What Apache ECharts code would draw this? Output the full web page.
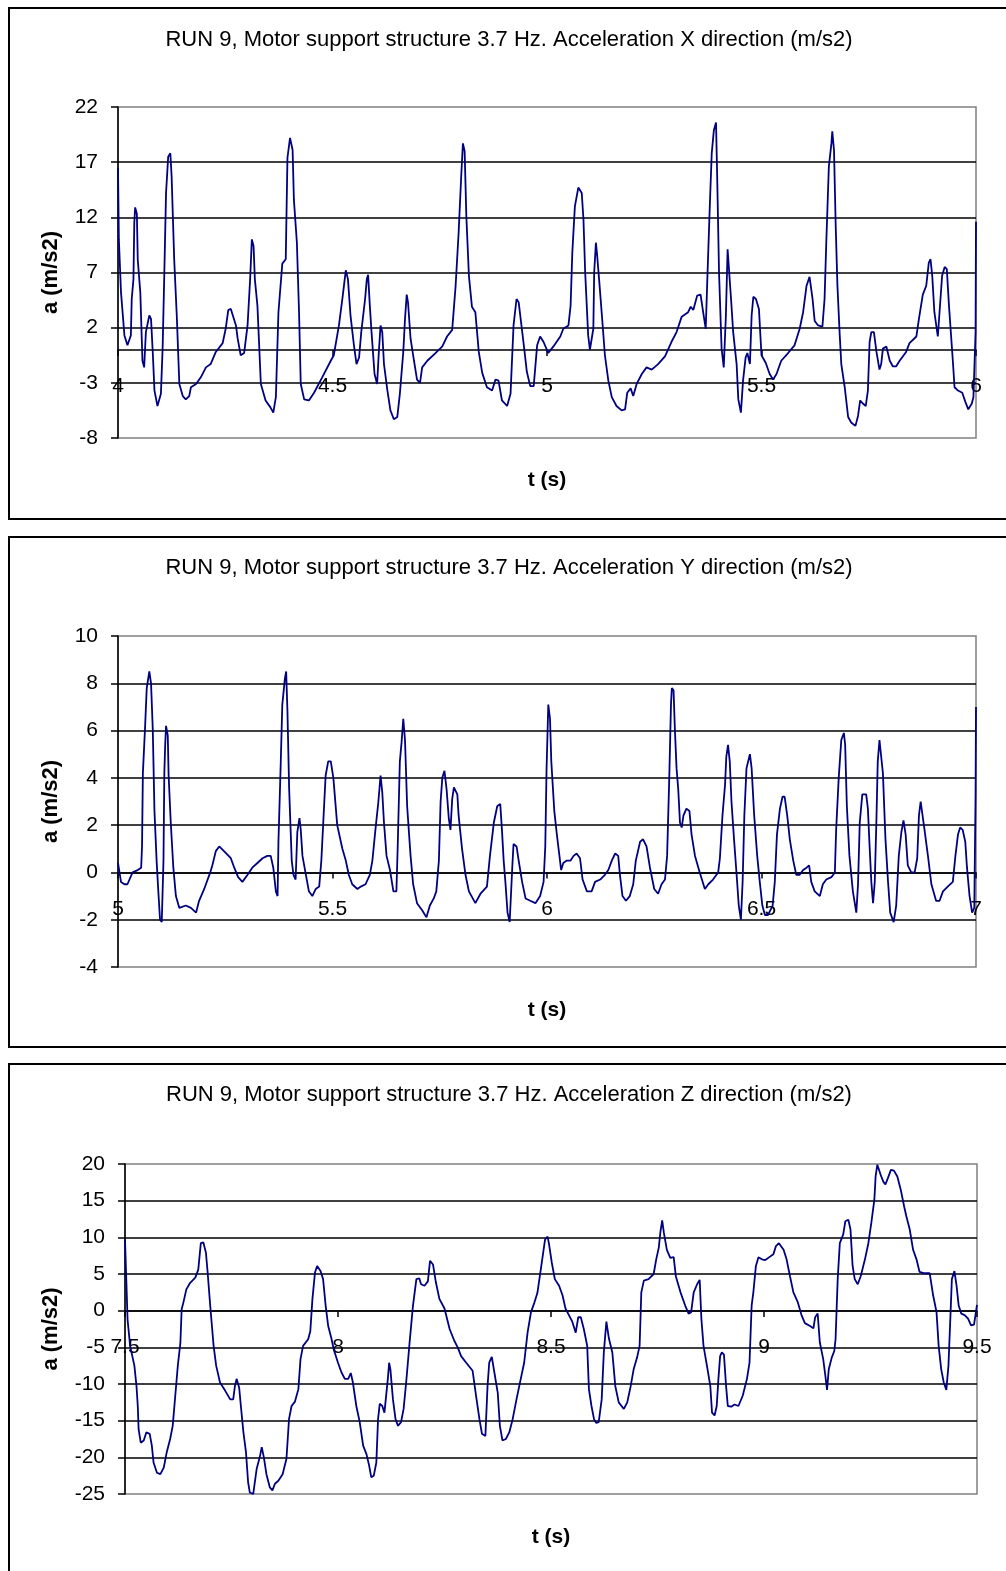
<!DOCTYPE html>
<html>
<head>
<meta charset="utf-8">
<title>RUN 9 motor support structure accelerations</title>
<script src="https://cdn.jsdelivr.net/npm/echarts@6.0.0/dist/echarts.min.js"></script>
<style>
  html, body { margin: 0; padding: 0; background: #fff; }
  #vis { width: 1006px; height: 1571px; }
</style>
</head>
<body>
<div id="vis"></div>
<script>
// readings, [t (s), a (m/s2)]
const accX = [
  [4.000,16.5],[4.002,10.0],[4.007,5.2],[4.015,1.3],[4.022,0.4],[4.030,1.3],[4.032,4.6],[4.036,6.4],[4.038,11.5],[4.040,12.9],
  [4.044,12.3],[4.046,8.2],[4.052,5.2],[4.057,-1.0],[4.061,-1.6],[4.065,1.6],[4.073,3.1],[4.077,2.8],[4.081,-0.2],[4.085,-3.7],
  [4.092,-5.1],[4.100,-4.0],[4.104,0.1],[4.108,7.0],[4.112,14.2],[4.117,17.5],[4.122,17.8],[4.125,15.7],[4.131,8.2],[4.137,3.1],
  [4.143,-3.1],[4.151,-4.2],[4.158,-4.5],[4.166,-4.2],[4.170,-3.4],[4.174,-3.3],[4.182,-3.1],[4.193,-2.5],[4.205,-1.6],[4.216,-1.3],
  [4.228,-0.2],[4.244,0.6],[4.251,1.9],[4.257,3.6],[4.263,3.7],[4.275,2.2],[4.279,1.0],[4.286,-0.5],[4.294,-0.3],[4.302,2.2],
  [4.308,6.4],[4.312,10.0],[4.316,9.4],[4.319,6.4],[4.325,4.0],[4.333,-3.1],[4.344,-4.6],[4.355,-5.2],[4.362,-5.7],[4.368,-4.3],
  [4.374,3.4],[4.383,7.8],[4.391,8.2],[4.395,17.4],[4.401,19.2],[4.407,18.1],[4.410,13.6],[4.417,9.7],[4.422,3.4],[4.426,-3.1],
  [4.434,-4.5],[4.445,-4.6],[4.457,-3.9],[4.476,-2.5],[4.496,-1.0],[4.503,-0.5],[4.515,2.2],[4.523,4.6],[4.531,7.2],[4.536,6.4],
  [4.542,3.1],[4.550,0.4],[4.556,-1.3],[4.562,-0.7],[4.567,1.6],[4.576,4.6],[4.580,6.4],[4.583,6.8],[4.587,4.0],[4.591,1.6],
  [4.598,-2.2],[4.604,-3.1],[4.608,-0.2],[4.612,2.2],[4.616,1.6],[4.620,-1.3],[4.628,-3.7],[4.635,-5.5],[4.643,-6.3],[4.651,-6.1],
  [4.657,-4.0],[4.665,-0.2],[4.669,2.8],[4.673,5.0],[4.676,4.3],[4.682,1.0],[4.690,-1.0],[4.697,-2.7],[4.704,-3.0],[4.709,-1.6],
  [4.721,-1.0],[4.740,-0.3],[4.756,0.3],[4.767,1.2],[4.779,1.8],[4.787,5.8],[4.794,10.6],[4.800,15.7],[4.804,18.7],[4.808,18.0],
  [4.812,12.1],[4.818,6.7],[4.825,3.9],[4.833,3.4],[4.841,-0.2],[4.849,-2.1],[4.860,-3.4],[4.872,-3.7],[4.880,-2.7],[4.887,-2.8],
  [4.895,-4.6],[4.907,-5.1],[4.915,-4.0],[4.922,2.2],[4.929,4.6],[4.934,4.3],[4.946,0.4],[4.953,-2.0],[4.961,-3.3],[4.969,-3.3],
  [4.977,0.4],[4.984,1.2],[4.992,0.7],[5.003,-0.3],[5.015,0.3],[5.031,1.2],[5.038,1.9],[5.050,2.2],[5.055,4.0],[5.059,8.8],
  [5.065,13.0],[5.073,14.7],[5.081,14.2],[5.085,11.8],[5.089,7.0],[5.096,1.3],[5.100,0.0],[5.104,0.1],[5.108,1.9],[5.110,7.0],
  [5.114,9.7],[5.117,8.5],[5.122,6.1],[5.128,3.1],[5.135,-0.5],[5.143,-2.8],[5.151,-4.3],[5.162,-5.1],[5.174,-5.5],[5.182,-5.4],
  [5.187,-3.9],[5.195,-3.5],[5.201,-4.2],[5.209,-3.1],[5.221,-2.2],[5.232,-1.6],[5.244,-1.8],[5.259,-1.3],[5.275,-0.6],[5.290,0.7],
  [5.302,1.6],[5.314,3.0],[5.329,3.4],[5.335,3.9],[5.341,3.6],[5.350,4.9],[5.358,5.0],[5.364,3.4],[5.370,1.9],[5.374,6.7],
  [5.380,13.6],[5.384,17.8],[5.389,19.9],[5.394,20.6],[5.397,15.1],[5.401,7.0],[5.407,0.1],[5.412,-1.6],[5.417,3.1],[5.421,9.1],
  [5.424,9.0],[5.429,4.6],[5.434,1.6],[5.442,-1.3],[5.446,-4.5],[5.452,-5.7],[5.457,-2.8],[5.463,-0.7],[5.467,-0.3],[5.473,-1.3],
  [5.477,3.1],[5.481,4.8],[5.487,4.6],[5.494,3.7],[5.500,-0.5],[5.510,-1.2],[5.519,-2.2],[5.527,-2.7],[5.535,-2.2],[5.546,-1.0],
  [5.562,-0.3],[5.577,0.4],[5.589,1.9],[5.597,3.4],[5.605,5.8],[5.612,6.6],[5.619,4.6],[5.624,2.6],[5.632,2.2],[5.642,2.1],
  [5.647,4.6],[5.651,9.7],[5.657,16.6],[5.663,18.7],[5.665,19.8],[5.669,18.1],[5.673,11.2],[5.677,5.8],[5.682,1.6],[5.686,-1.3],
  [5.694,-3.4],[5.702,-6.1],[5.709,-6.6],[5.719,-6.9],[5.725,-6.0],[5.730,-4.6],[5.737,-4.9],[5.743,-5.1],[5.748,-3.7],[5.752,0.7],
  [5.756,1.6],[5.762,1.6],[5.768,-0.2],[5.775,-1.8],[5.779,-1.3],[5.783,0.1],[5.791,0.3],[5.799,-1.0],[5.806,-1.5],[5.814,-1.5],
  [5.822,-1.0],[5.837,-0.2],[5.845,0.6],[5.861,1.2],[5.867,2.8],[5.876,5.0],[5.884,5.8],[5.890,7.9],[5.894,8.2],[5.898,6.7],
  [5.903,3.4],[5.911,1.2],[5.915,1.3],[5.921,6.7],[5.927,7.5],[5.932,7.3],[5.937,4.0],[5.946,-1.0],[5.950,-3.4],[5.958,-3.7],
  [5.968,-3.9],[5.975,-4.7],[5.982,-5.4],[5.990,-4.9],[5.994,-4.3],[5.999,1.6],[6.000,11.6]
]

const accY = [
  [5.000,0.4],[5.007,-0.4],[5.015,-0.5],[5.022,-0.5],[5.034,0.0],[5.046,0.1],[5.054,0.2],[5.056,1.1],[5.058,4.2],[5.063,6.1],
  [5.067,7.8],[5.073,8.5],[5.077,8.0],[5.081,6.1],[5.085,2.6],[5.090,0.5],[5.094,-0.8],[5.098,-2.0],[5.102,-2.1],[5.106,0.5],
  [5.108,4.2],[5.110,5.4],[5.112,6.2],[5.116,5.8],[5.118,4.1],[5.123,2.1],[5.129,0.2],[5.135,-1.0],[5.143,-1.5],[5.158,-1.4],
  [5.170,-1.5],[5.182,-1.7],[5.189,-1.2],[5.201,-0.7],[5.215,0.0],[5.220,0.3],[5.228,0.9],[5.236,1.1],[5.247,0.9],[5.263,0.6],
  [5.271,0.2],[5.280,-0.2],[5.290,-0.4],[5.302,-0.1],[5.313,0.2],[5.325,0.4],[5.337,0.6],[5.348,0.7],[5.356,0.7],[5.362,0.2],
  [5.368,-0.8],[5.372,-1.0],[5.374,1.3],[5.379,4.4],[5.383,7.1],[5.389,8.2],[5.392,8.5],[5.395,6.8],[5.399,3.5],[5.405,0.5],
  [5.409,-0.1],[5.414,-0.3],[5.418,1.7],[5.423,2.3],[5.426,1.8],[5.430,0.7],[5.438,-0.1],[5.445,-0.8],[5.453,-1.0],[5.461,-0.7],
  [5.469,-0.6],[5.474,0.5],[5.479,2.3],[5.484,4.1],[5.490,4.7],[5.496,4.7],[5.502,4.0],[5.511,2.0],[5.523,1.0],[5.531,0.5],
  [5.538,-0.1],[5.546,-0.5],[5.558,-0.7],[5.566,-0.6],[5.577,-0.5],[5.587,-0.1],[5.593,0.5],[5.600,1.8],[5.607,3.0],[5.612,4.1],
  [5.616,3.4],[5.620,2.1],[5.626,0.7],[5.634,0.1],[5.642,-0.8],[5.649,-0.8],[5.652,1.1],[5.657,4.7],[5.661,5.5],[5.665,6.5],
  [5.669,5.6],[5.674,2.8],[5.682,0.7],[5.688,-0.5],[5.697,-1.3],[5.709,-1.6],[5.719,-1.9],[5.727,-1.4],[5.736,-1.1],[5.742,-0.8],
  [5.748,0.5],[5.752,3.0],[5.756,4.0],[5.761,4.3],[5.766,3.5],[5.771,2.3],[5.775,1.8],[5.779,3.1],[5.783,3.6],[5.791,3.3],
  [5.794,2.4],[5.802,1.0],[5.810,-0.1],[5.818,-0.8],[5.833,-1.3],[5.845,-0.9],[5.860,-0.6],[5.867,0.7],[5.876,2.1],[5.884,2.8],
  [5.891,2.9],[5.895,1.8],[5.899,0.5],[5.903,-0.4],[5.908,-1.7],[5.913,-2.1],[5.919,0.2],[5.922,1.2],[5.929,1.1],[5.934,0.5],
  [5.942,-0.4],[5.950,-1.1],[5.961,-1.2],[5.973,-1.3],[5.984,-1.0],[5.992,-0.4],[5.996,1.1],[5.999,4.4],[6.003,7.1],[6.007,6.5],
  [6.010,4.7],[6.013,3.8],[6.017,2.6],[6.023,1.6],[6.029,0.7],[6.033,0.1],[6.038,0.4],[6.046,0.5],[6.055,0.5],[6.062,0.7],
  [6.069,0.8],[6.077,0.6],[6.083,-0.3],[6.093,-0.8],[6.104,-0.8],[6.112,-0.4],[6.124,-0.3],[6.135,-0.1],[6.143,0.1],[6.151,0.5],
  [6.159,0.8],[6.166,0.7],[6.170,-0.1],[6.176,-1.0],[6.184,-1.2],[6.193,-1.0],[6.201,-0.5],[6.207,0.5],[6.217,1.3],[6.224,1.4],
  [6.232,1.1],[6.240,0.2],[6.250,-0.7],[6.259,-0.9],[6.267,-0.5],[6.275,-0.3],[6.280,0.7],[6.285,4.0],[6.289,7.1],[6.291,7.8],
  [6.295,7.7],[6.298,6.1],[6.302,4.4],[6.306,3.5],[6.310,2.1],[6.314,1.9],[6.318,2.4],[6.325,2.7],[6.332,2.6],[6.337,1.6],
  [6.345,0.7],[6.356,0.0],[6.368,-0.7],[6.376,-0.5],[6.387,-0.3],[6.399,0.0],[6.403,0.6],[6.409,2.4],[6.415,3.7],[6.418,4.9],
  [6.422,5.4],[6.426,4.7],[6.430,3.0],[6.436,1.4],[6.442,-0.1],[6.447,-1.4],[6.452,-2.0],[6.456,-0.4],[6.460,2.4],[6.465,4.4],
  [6.469,4.7],[6.473,5.0],[6.477,4.4],[6.483,2.4],[6.490,0.7],[6.496,-0.4],[6.502,-1.4],[6.508,-1.8],[6.515,-1.8],[6.526,-1.4],
  [6.531,-0.4],[6.536,1.6],[6.543,2.7],[6.549,3.2],[6.554,3.2],[6.560,2.4],[6.566,1.4],[6.574,0.5],[6.581,-0.1],[6.589,-0.1],
  [6.597,0.1],[6.605,0.2],[6.611,0.3],[6.616,-0.4],[6.624,-0.8],[6.636,-1.0],[6.643,-0.5],[6.651,-0.3],[6.663,-0.2],[6.671,0.0],
  [6.674,1.8],[6.680,4.0],[6.686,5.6],[6.692,5.9],[6.695,5.4],[6.699,2.8],[6.705,0.7],[6.713,-0.8],[6.721,-1.7],[6.725,-0.5],
  [6.729,2.1],[6.735,3.3],[6.744,3.3],[6.748,2.7],[6.752,1.1],[6.756,-0.4],[6.760,-1.3],[6.764,-0.4],[6.768,2.3],[6.771,4.7],
  [6.775,5.6],[6.779,5.6],[6.783,4.2],[6.789,1.4],[6.795,-0.4],[6.800,-1.7],[6.808,-2.1],[6.814,-1.4],[6.820,0.7],[6.826,1.7],
  [6.831,2.2],[6.836,1.6],[6.841,0.3],[6.849,0.0],[6.857,0.0],[6.863,0.6],[6.867,2.4],[6.871,3.0],[6.875,3.0],[6.880,1.8],
  [6.888,0.7],[6.896,-0.5],[6.907,-1.2],[6.915,-1.2],[6.923,-0.8],[6.934,-0.6],[6.946,-0.4],[6.952,0.7],[6.958,1.6],[6.963,1.9],
  [6.969,1.8],[6.975,1.3],[6.979,0.2],[6.985,-1.0],[6.991,-1.7],[6.996,-1.5],[6.999,3.3],[7.000,7.0]
]

const accZ = [
  [7.500,9.7],[7.503,4.3],[7.506,-1.2],[7.512,-4.8],[7.522,-7.5],[7.527,-10.3],[7.530,-13.0],[7.532,-16.2],[7.537,-18.0],[7.544,-17.7],
  [7.550,-16.6],[7.558,-16.8],[7.563,-18.4],[7.567,-20.7],[7.575,-22.1],[7.583,-22.3],[7.591,-21.4],[7.598,-19.3],[7.606,-17.5],[7.612,-15.7],
  [7.618,-11.6],[7.624,-7.5],[7.630,-4.4],[7.633,0.2],[7.637,1.1],[7.644,2.9],[7.653,3.8],[7.665,4.5],[7.672,5.6],[7.678,9.2],
  [7.684,9.3],[7.690,7.9],[7.694,5.2],[7.700,0.7],[7.708,-4.8],[7.714,-7.5],[7.723,-9.8],[7.735,-10.9],[7.747,-12.1],[7.754,-12.1],
  [7.758,-10.3],[7.762,-9.3],[7.768,-10.5],[7.772,-13.0],[7.778,-16.6],[7.784,-19.3],[7.789,-23.4],[7.793,-24.8],[7.801,-25.0],[7.809,-21.6],
  [7.817,-19.8],[7.821,-18.6],[7.826,-20.0],[7.832,-22.3],[7.840,-24.1],[7.846,-24.5],[7.852,-23.6],[7.860,-23.2],[7.870,-22.3],[7.879,-20.2],
  [7.885,-14.8],[7.891,-13.0],[7.899,-12.4],[7.907,-10.7],[7.912,-6.6],[7.918,-4.8],[7.930,-3.9],[7.935,-2.8],[7.940,1.6],[7.946,5.2],
  [7.951,6.1],[7.959,5.4],[7.965,4.3],[7.971,0.7],[7.977,-2.1],[7.985,-3.9],[7.990,-5.3],[8.000,-7.1],[8.008,-8.4],[8.016,-9.3],
  [8.024,-9.3],[8.030,-8.5],[8.035,-9.8],[8.043,-13.0],[8.051,-15.2],[8.059,-18.4],[8.067,-19.6],[8.073,-21.1],[8.078,-22.7],[8.084,-22.5],
  [8.090,-20.7],[8.094,-14.8],[8.098,-12.7],[8.104,-13.0],[8.109,-13.9],[8.113,-13.9],[8.117,-9.3],[8.120,-7.1],[8.123,-8.0],[8.129,-12.1],
  [8.135,-14.8],[8.141,-15.7],[8.148,-15.2],[8.154,-13.4],[8.160,-9.8],[8.168,-4.4],[8.176,0.7],[8.184,4.3],[8.191,4.4],[8.195,3.6],
  [8.203,3.4],[8.211,4.0],[8.216,6.8],[8.223,6.3],[8.230,3.8],[8.238,1.6],[8.250,0.3],[8.262,-2.5],[8.273,-4.1],[8.281,-5.0],
  [8.289,-6.2],[8.301,-7.1],[8.316,-8.2],[8.324,-11.6],[8.332,-14.8],[8.338,-16.8],[8.346,-17.1],[8.351,-10.3],[8.355,-7.1],[8.361,-6.3],
  [8.367,-8.4],[8.375,-11.2],[8.380,-15.7],[8.386,-17.7],[8.394,-17.5],[8.402,-16.6],[8.410,-14.8],[8.419,-12.1],[8.429,-9.3],[8.437,-7.1],
  [8.445,-3.0],[8.453,-0.2],[8.461,1.1],[8.468,2.4],[8.476,5.6],[8.486,9.7],[8.492,10.1],[8.495,9.2],[8.502,6.5],[8.509,4.3],
  [8.519,3.4],[8.527,2.1],[8.534,0.3],[8.542,-0.6],[8.550,-1.5],[8.558,-3.0],[8.564,-0.9],[8.570,-0.9],[8.577,-2.5],[8.585,-4.8],
  [8.589,-10.7],[8.595,-13.0],[8.601,-14.8],[8.606,-15.3],[8.612,-15.2],[8.619,-12.1],[8.624,-5.7],[8.630,-1.5],[8.636,-3.8],[8.644,-5.7],
  [8.651,-10.3],[8.659,-12.5],[8.671,-13.4],[8.679,-12.5],[8.687,-10.3],[8.694,-8.0],[8.702,-6.4],[8.708,-4.8],[8.712,2.5],[8.718,4.1],
  [8.729,4.3],[8.741,5.0],[8.747,7.0],[8.753,8.6],[8.757,10.8],[8.761,12.3],[8.765,10.6],[8.772,8.3],[8.780,7.2],[8.788,7.3],
  [8.793,4.7],[8.804,2.5],[8.815,0.7],[8.823,-0.4],[8.829,-0.2],[8.835,2.5],[8.843,3.6],[8.849,4.2],[8.853,-1.1],[8.858,-4.8],
  [8.866,-7.5],[8.874,-10.3],[8.878,-13.9],[8.884,-14.3],[8.889,-13.0],[8.893,-9.3],[8.897,-6.2],[8.901,-5.7],[8.906,-6.0],[8.911,-10.3],
  [8.915,-13.0],[8.923,-13.1],[8.931,-12.8],[8.940,-13.0],[8.950,-11.6],[8.960,-9.3],[8.966,-7.1],[8.971,0.7],[8.975,2.5],[8.981,6.1],
  [8.987,7.3],[8.995,7.0],[9.003,6.9],[9.010,7.2],[9.022,7.7],[9.028,8.8],[9.035,9.2],[9.046,8.3],[9.053,7.0],[9.061,4.7],
  [9.069,2.5],[9.079,1.2],[9.088,-0.6],[9.096,-1.7],[9.108,-2.1],[9.116,-2.4],[9.120,-0.9],[9.126,-0.4],[9.131,-4.3],[9.139,-6.6],
  [9.143,-8.4],[9.148,-10.8],[9.152,-8.0],[9.159,-6.4],[9.165,-5.5],[9.168,-3.9],[9.173,4.3],[9.178,9.2],[9.186,10.4],[9.191,12.2],
  [9.198,12.4],[9.203,11.1],[9.208,6.1],[9.213,4.3],[9.220,3.6],[9.227,4.7],[9.237,7.0],[9.245,9.2],[9.252,12.0],[9.259,15.1],
  [9.262,18.3],[9.266,19.9],[9.269,20.0],[9.274,18.5],[9.280,17.6],[9.285,17.2],[9.291,18.1],[9.298,19.2],[9.305,19.1],[9.313,18.3],
  [9.321,16.5],[9.329,14.2],[9.334,12.9],[9.342,11.1],[9.350,8.3],[9.358,7.0],[9.365,5.3],[9.377,5.1],[9.389,5.1],[9.397,2.1],
  [9.405,-0.2],[9.410,-4.8],[9.416,-8.0],[9.422,-9.8],[9.428,-10.8],[9.433,-7.5],[9.438,-0.2],[9.441,4.3],[9.447,5.4],[9.452,3.4],
  [9.457,0.7],[9.463,-0.4],[9.471,-0.6],[9.479,-1.1],[9.486,-2.0],[9.493,-1.9],[9.500,0.8]
]

const titles = [
  'RUN 9, Motor support structure 3.7 Hz. Acceleration X direction (m/s2)',
  'RUN 9, Motor support structure 3.7 Hz. Acceleration Y direction (m/s2)',
  'RUN 9, Motor support structure 3.7 Hz. Acceleration Z direction (m/s2)'
]
const seriesData = [accX, accY, accZ]
// [min, max, step]
const tAxes = [[4, 6, 0.5], [5, 7, 0.5], [7.5, 9.5, 0.5]]
const aAxes = [[-8, 22, 5], [-4, 10, 2], [-25, 20, 5]]

const font = '"Liberation Sans", Arial, sans-serif'
const navy = '#000080'

// frame + plot area of each panel, in px
// xShift lifts the time axis from the plot bottom up to the a = 0 line
const panels = [
  { boxTop: 8, boxH: 511, titleY: 40, left: 118, top: 107, width: 858, height: 331, xShift: -88, xGap: 120, yGap: 56 },
  { boxTop: 537, boxH: 510, titleY: 568, left: 118, top: 636, width: 858, height: 331, xShift: -94.5, xGap: 127, yGap: 56 },
  { boxTop: 1064, boxH: 560, titleY: 1095, left: 125, top: 1164, width: 852, height: 330, xShift: -183, xGap: 216, yGap: 63 }
]

const grid = panels.map(p => ({
  left: p.left,
  top: p.top,
  width: p.width,
  height: p.height,
  outerBoundsMode: 'none',
  containLabel: false,
  show: true,
  borderColor: '#808080',
  borderWidth: 1.5,
  backgroundColor: '#fff'
}))

const xAxis = panels.map((p, i) => ({
  gridIndex: i,
  type: 'value',
  position: 'bottom',
  offset: p.xShift,
  min: tAxes[i][0],
  max: tAxes[i][1],
  interval: tAxes[i][2],
  axisLine: { onZero: false, lineStyle: { color: '#000', width: 1.5 } },
  axisTick: { show: true, length: 6, lineStyle: { color: '#000', width: 1.5 } },
  axisLabel: { color: '#000', fontSize: 21, fontFamily: font, margin: 26, showMinLabel: true, showMaxLabel: true },
  splitLine: { show: false },
  name: 't (s)',
  nameLocation: 'middle',
  nameGap: p.xGap,
  nameTextStyle: { color: '#000', fontSize: 21, fontWeight: 'bold', fontFamily: font }
}))

const yAxis = panels.map((p, i) => ({
  gridIndex: i,
  type: 'value',
  min: aAxes[i][0],
  max: aAxes[i][1],
  interval: aAxes[i][2],
  axisLine: { show: true, onZero: false, lineStyle: { color: '#000', width: 1.5 } },
  axisTick: { show: true, length: 7, lineStyle: { color: '#000', width: 1.5 } },
  axisLabel: { color: '#000', fontSize: 21, fontFamily: font, margin: 20 },
  splitLine: { show: true, showMinLine: false, showMaxLine: false, lineStyle: { color: '#000', width: 1.5 } },
  name: 'a (m/s2)',
  nameLocation: 'middle',
  nameGap: p.yGap,
  nameTextStyle: { color: '#000', fontSize: 22, fontWeight: 'bold', fontFamily: font }
}))

const series = seriesData.map((d, i) => ({
  type: 'line',
  xAxisIndex: i,
  yAxisIndex: i,
  data: d,
  showSymbol: false,
  symbol: 'none',
  lineStyle: { color: navy, width: 1.8 },
  z: 3
}))

// outer frames and titles
const graphic = []
panels.forEach((p, i) => {
  graphic.push({
    type: 'rect',
    shape: { x: 9, y: p.boxTop, width: 1010, height: p.boxH },
    style: { fill: null, stroke: '#000', lineWidth: 2 },
    silent: true,
    z: -10
  })
  graphic.push({
    type: 'text',
    x: 509,
    y: p.titleY,
    style: {
      text: titles[i],
      fill: '#000',
      font: '22px ' + font,
      textAlign: 'center',
      textVerticalAlign: 'middle'
    },
    silent: true
  })
})

const chart = echarts.init(document.getElementById('vis'), null, { renderer: 'canvas' })
chart.setOption({
  animation: false,
  backgroundColor: '#fff',
  grid,
  xAxis,
  yAxis,
  series,
  graphic
})
</script>
</body>
</html>
